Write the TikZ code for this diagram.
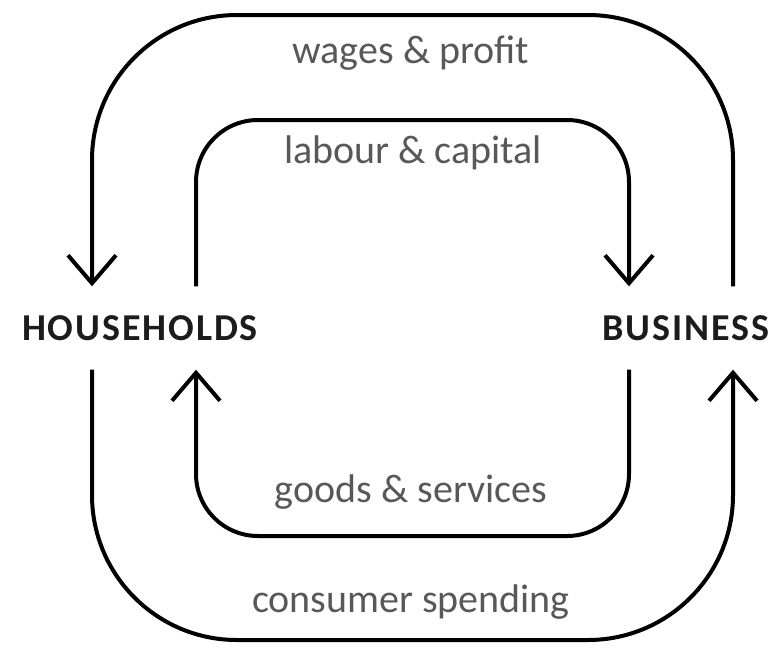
\documentclass[tikz,border=0pt]{standalone}
\usepackage{fontspec}
\setmainfont{Carlito}
\newfontfamily\sectorfont[LetterSpace=5]{Carlito}
\usepackage{tikz}
\usetikzlibrary{
    arrows.meta,
    positioning
}
\definecolor{labelgray}{RGB}{88, 88, 88}
\definecolor{sectorblack}{RGB}{28, 28, 28}
\tikzstyle{flow} = [
    -{Straight Barb[length=28pt,width=48pt]},
    line width=4pt
]
\tikzstyle{sector} = [
    font=\sectorfont\fontsize{38}{40}\selectfont\bfseries,
    text=sectorblack,
    minimum height=83pt,
    inner sep=0pt
]
\tikzstyle{flowlabel} = [
    font=\fontsize{40}{44}\selectfont,
    text=labelgray,
    anchor=base
]

\begin{document}
\begin{tikzpicture}[x=1pt, y=-1pt]
        \useasboundingbox (0,0) rectangle (782,649);

        % Sectors
        \node[sector] (hh) at (140,328) {HOUSEHOLDS};
        \node[sector] (bus) at (686,328) {BUSINESS};

        % Outer loop (money)
        \draw[flow, rounded corners=145pt]
            ([xshift=47pt]bus.north) |- (411,15) -| ([xshift=-48pt]hh.north);
        \draw[flow, rounded corners=145pt]
            ([xshift=-48pt]hh.south) |- (411,640) -| ([xshift=47pt]bus.south);

        % Inner loop (real flows)
        \draw[flow, rounded corners=62pt]
            ([xshift=56pt]hh.north) |- (411,120) -| ([xshift=-57pt]bus.north);
        \draw[flow, rounded corners=62pt]
            ([xshift=-57pt]bus.south) |- (411,536) -| ([xshift=56pt]hh.south);

        % Labels
        \node[flowlabel] (wages) at (411,63) {wages \& profit};
        \node[flowlabel] (labour) at (413,163) {labour \& capital};
        \node[flowlabel] (goods) at (411,502) {goods \& services};
        \node[flowlabel] (spending) at (411,612) {consumer spending};
    \end{tikzpicture}
\end{document}
